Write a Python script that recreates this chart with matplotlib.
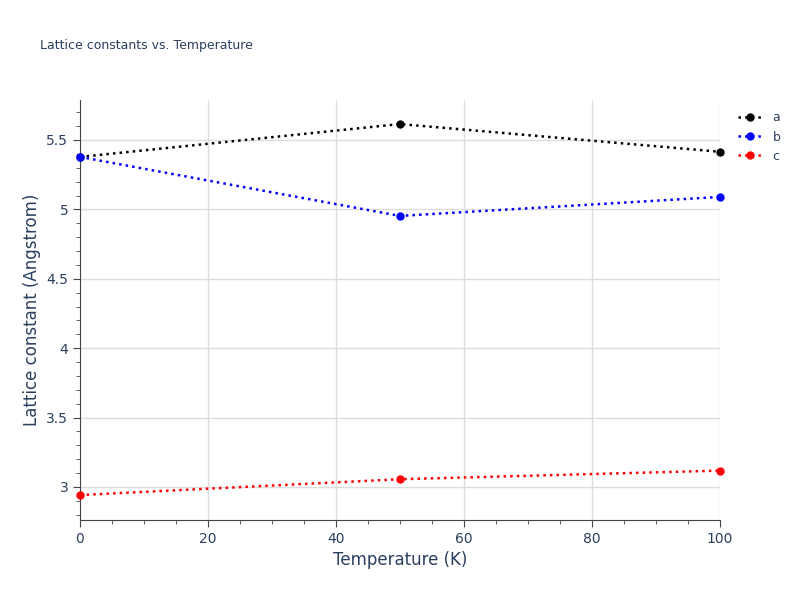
import matplotlib
matplotlib.use("Agg")
import matplotlib.pyplot as plt
from matplotlib.ticker import MultipleLocator

temps = [0, 50, 100]
a_vals = [5.378, 5.615, 5.415]
b_vals = [5.378, 4.953, 5.090]
c_vals = [2.942, 3.056, 3.118]
series = [("a", a_vals, "black"), ("b", b_vals, "blue"), ("c", c_vals, "red")]

fig = plt.figure(figsize=(8, 6), dpi=100)
ax = fig.add_axes([0.1, 0.1333, 0.8, 0.7])
for name, vals, col in series:
    ax.plot(temps, vals, ls=":", lw=1.8, color=col, marker="o", ms=5, label=name, clip_on=False, zorder=3)

ax.set_xlim(0, 100)
ax.set_ylim(2.762, 5.788)
ax.xaxis.set_major_locator(MultipleLocator(20))
ax.xaxis.set_minor_locator(MultipleLocator(5))
ax.yaxis.set_major_locator(MultipleLocator(0.5))
ax.yaxis.set_minor_locator(MultipleLocator(0.1))
ax.set_yticks([3, 3.5, 4, 4.5, 5, 5.5])
ax.set_yticklabels(["3", "3.5", "4", "4.5", "5", "5.5"])
ax.grid(True, which="major", color="#dddddd", lw=1)
for s in ["top", "right"]:
    ax.spines[s].set_visible(False)
for s in ["left", "bottom"]:
    ax.spines[s].set_color("#444444")
ax.tick_params(which="both", direction="out", colors="#444444", labelcolor="#2a3f5f", labelsize=10)
ax.tick_params(which="major", length=5)
ax.tick_params(which="minor", length=3)
ax.set_xlabel("Temperature (K)", color="#2a3f5f", fontsize=12)
ax.set_ylabel("Lattice constant (Angstrom)", color="#2a3f5f", fontsize=12)
fig.text(0.05, 0.918, "Lattice constants vs. Temperature", color="#2a3f5f", fontsize=9)
leg = ax.legend(loc="upper left", bbox_to_anchor=(1.01, 1.0), frameon=False, fontsize=9)
for t in leg.get_texts():
    t.set_color("#2a3f5f")
fig.savefig("out.png")
